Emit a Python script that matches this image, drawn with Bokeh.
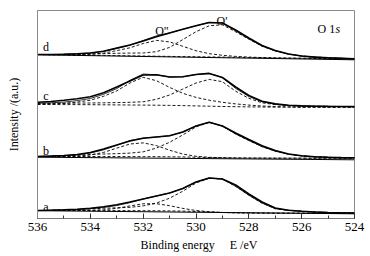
import math
from bokeh.plotting import figure
from bokeh.models import Range1d, Label, SingleIntervalTicker
from bokeh.embed import file_html
from bokeh.resources import INLINE

# Binding energy grid (eV)
be = [536, 535.5, 535, 534.5, 534, 533.5, 533, 532.5, 532, 531.5, 531, 530.5,
      530, 529.5, 529, 528.5, 528, 527.5, 527, 526.5, 526, 525.5, 525, 524.5, 524]

# Spectrum a (stacked intensity, a.u.)
a_data = [8, 8.3, 8.7, 9.3, 10.3, 11.7, 13.7, 16.5, 19.5, 22.5, 25.5, 30, 36.5, 40.5,
          39.5, 33.5, 24.5, 16.5, 10.5, 8.2, 7.2, 6.5, 6, 5.7, 5.5]
a_bg = [8, 8, 8, 8, 8, 7.95, 7.9, 7.85, 7.8, 7.7, 7.6, 7.4, 7.0, 6.5, 6.0, 5.7, 5.5,
        5.4, 5.35, 5.3, 5.3, 5.3, 5.3, 5.3, 5.3]
a_o2 = [0, 0, 0.05, 0.1, 0.2, 0.8, 2.3, 4.7, 6.9, 7.1, 5.2, 2.7, 1.0, 0.3, 0.05, 0,
        0, 0, 0, 0, 0, 0, 0, 0, 0]
a_o1 = [0, 0.3, 0.5, 0.9, 1.6, 2.3, 2.8, 3.3, 4.8, 7.7, 12.7, 19.9, 28.5, 33.7, 33.45,
        26.5, 17.8, 10.0, 4.5, 2.9, 1.9, 1.2, 0.7, 0.4, 0.2]
a_base = [7.8, 4.7]

# Spectrum b
b_data = [62, 62.4, 63, 64, 66, 69.5, 73.5, 77.5, 80.2, 81.5, 82.8, 86.5, 92.5, 96.3,
          92.5, 85.5, 79, 72.7, 68, 64.5, 62.7, 61.7, 61.2, 60.9, 60.7]
b_bg = [62, 62, 62, 62, 62, 62, 61.95, 61.9, 61.85, 61.8, 61.7, 61.55, 61.3, 61.0,
        60.75, 60.55, 60.45, 60.4, 60.35, 60.3, 60.3, 60.3, 60.3, 60.3, 60.3]
b_o2 = [0, 0, 0.08, 0.4, 1.5, 4.1, 8.4, 12.6, 13.8, 11.1, 6.6, 2.9, 0.9, 0.2, 0.03, 0,
        0, 0, 0, 0, 0, 0, 0, 0, 0]
b_o1 = [0, 0.3, 0.7, 1.3, 2.0, 2.5, 2.9, 3.5, 4.8, 8.6, 14.5, 22.0, 30.3, 35.1, 31.7,
        24.0, 17.6, 11.5, 7.0, 4.0, 2.3, 1.4, 0.9, 0.6, 0.4]
b_base = [61.3, 58.7]

# Spectrum c
c_data = [116.3, 117, 118.2, 119.8, 121.8, 125.7, 131.5, 137.5, 143.5, 143.7, 141.5,
          141.7, 144, 145.1, 141, 131.5, 123, 117.3, 114.6, 113.2, 112.6, 112.3, 112.1,
          112, 111.9]
c_bg = [114, 114, 113.9, 113.9, 113.8, 113.7, 113.6, 113.5, 113.4, 113.3, 113.1, 112.9,
        112.6, 112.3, 112.0, 111.8, 111.6, 111.5, 111.4, 111.4, 111.3, 111.3, 111.3,
        111.3, 111.3]
c_o2 = [0.3, 0.6, 1.2, 2.5, 4.5, 8.5, 14, 22, 27.8, 24.5, 18, 12.3, 8.5, 6.0, 4.2, 2.8,
        1.8, 1.0, 0.5, 0.2, 0, 0, 0, 0, 0]
c_o1 = [1.0, 1.1, 1.3, 1.5, 1.7, 2.0, 2.3, 2.7, 3.3, 5.9, 10.4, 16.5, 22.9, 26.8, 24.8,
        15.5, 8.6, 4.2, 2.5, 1.5, 1.2, 1.0, 0.8, 0.7, 0.6]

# Spectrum d
d_data = [164, 164, 164.3, 164.7, 165.5, 167.2, 170.4, 173.5, 177.5, 181.7, 185.5,
          189.2, 192.7, 196, 195.5, 188.5, 180.5, 173, 168, 164.5, 162.5, 161.4, 160.7,
          160.2, 159.7]
d_bg = [164.0, 163.8, 163.6, 163.4, 163.25, 163.1, 162.9, 162.7, 162.5, 162.3, 162.1,
        161.9, 161.75, 161.55, 161.4, 161.2, 161.0, 160.8, 160.6, 160.4, 160.25, 160.1,
        159.9, 159.7, 159.5]
d_o2 = [0, 0.1, 0.3, 0.5, 1.0, 2.3, 5.0, 8.0, 12.5, 15.8, 14.5, 10.3, 6.0, 3.3, 1.8,
        0.9, 0.4, 0.15, 0, 0, 0, 0, 0, 0, 0]
d_o1 = [0, 0.1, 0.4, 0.8, 1.2, 1.8, 2.3, 2.7, 3.0, 4.5, 9.0, 17.0, 25.0, 31.2, 32.3,
        25.5, 18.3, 11.5, 7.0, 4.0, 2.2, 1.3, 0.8, 0.5, 0.2]
d_base = [163.7, 158.7]

base_x = [536, 524]
sample_labels = ["a", "b", "c", "d"]
x_ticks_major = 2

FONT = "Liberation Serif"
NB = "\u00a0"

p = figure(width=370, height=256, output_backend="svg", toolbar_location=None,
           x_range=Range1d(536, 524), y_range=Range1d(0, 208),
           min_border_left=37, min_border_right=16, min_border_top=10,
           min_border_bottom=38)
p.grid.visible = False
p.outline_line_color = "#8a8a8a"
p.outline_line_width = 1
p.background_fill_color = "white"
p.border_fill_color = "white"

ax = p.xaxis[0]
ax.ticker = SingleIntervalTicker(interval=x_ticks_major, num_minor_ticks=2)
ax.axis_line_color = "#777777"
ax.major_tick_in = 5
ax.major_tick_out = 0
ax.minor_tick_in = 3
ax.minor_tick_out = 0
ax.major_tick_line_color = "#333333"
ax.minor_tick_line_color = "#333333"
ax.major_label_text_font = FONT
ax.major_label_text_font_size = "13px"
ax.major_label_text_color = "black"
ax.major_label_standoff = 4
ax.axis_label = NB * 2 + "Binding energy" + NB * 5 + "E /eV"
ax.axis_label_text_font = FONT
ax.axis_label_text_font_size = "12px"
ax.axis_label_text_font_style = "normal"
ax.axis_label_text_color = "black"
ax.axis_label_standoff = 4

yax = p.yaxis[0]
yax.axis_line_color = "#8a8a8a"
yax.major_tick_line_color = None
yax.minor_tick_line_color = None
yax.major_label_text_font_size = "0px"
yax.major_label_text_color = None
yax.major_label_standoff = 0
yax.axis_label = "Intensity /(a.u.)"
yax.axis_label_text_font = FONT
yax.axis_label_text_font_size = "12px"
yax.axis_label_text_font_style = "normal"
yax.axis_label_text_color = "black"
yax.axis_label_standoff = 11

spectra = [
    (a_data, a_bg, a_o2, a_o1, a_base),
    (b_data, b_bg, b_o2, b_o1, b_base),
    (c_data, c_bg, c_o2, c_o1, None),
    (d_data, d_bg, d_o2, d_o1, d_base),
]

for data, bg, o2, o1, base in spectra:
    comp2 = [g + v for g, v in zip(bg, o2)]
    comp1 = [g + v for g, v in zip(bg, o1)]
    fit = [g + v + w for g, v, w in zip(bg, o2, o1)]
    if base is not None:
        p.line(base_x, base, line_color="black", line_width=1.0)
    p.line(be, bg, line_color="black", line_width=0.9, line_dash="3 2")
    p.line(be, comp2, line_color="black", line_width=0.9, line_dash="3 2")
    p.line(be, comp1, line_color="black", line_width=0.9, line_dash="3 2")
    p.line(be, fit, line_color="black", line_width=0.8)
    p.line(be, data, line_color="black", line_width=1.6)

# sample letters
letter_y = [12, 68, 123, 172]
for s, yy in zip(sample_labels, letter_y):
    p.add_layout(Label(x=535.68, y=yy, text=s, text_font=FONT, text_font_size="12px",
                       text_color="black", text_align="center",
                       text_baseline="alphabetic"))

p.add_layout(Label(x=531.29, y=187.3, text='O"', text_font=FONT, text_font_size="12px",
                   text_color="black", text_align="center", text_baseline="alphabetic"))
p.add_layout(Label(x=529.02, y=197.3, text="O'", text_font=FONT, text_font_size="12px",
                   text_color="black", text_align="center", text_baseline="alphabetic"))
p.add_layout(Label(x=525.4, y=189.7, text="O 1", text_font=FONT, text_font_size="12px",
                   text_color="black", text_align="left", text_baseline="alphabetic"))
p.add_layout(Label(x=524.72, y=189.7, text="s", text_font=FONT, text_font_size="12px",
                   text_color="black", text_font_style="italic", text_align="left",
                   text_baseline="alphabetic"))

open("out.html", "w").write(file_html(p, INLINE))
